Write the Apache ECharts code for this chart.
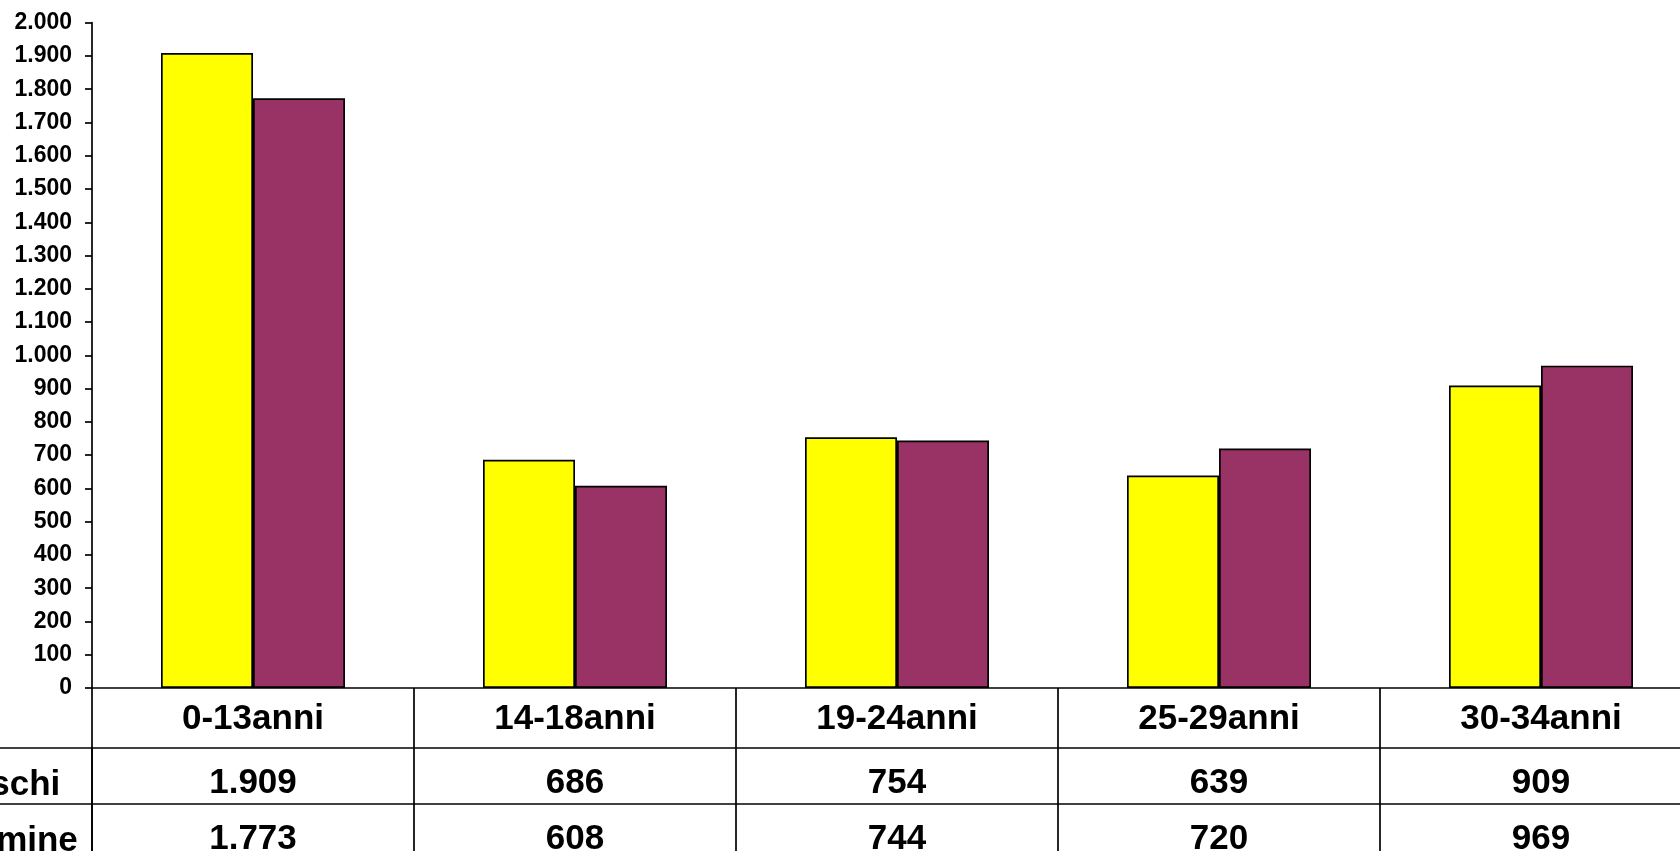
<!DOCTYPE html>
<html>
<head>
<meta charset="utf-8">
<script src="https://cdn.jsdelivr.net/npm/echarts@6/dist/echarts.min.js"></script>
<style>
html,body{margin:0;padding:0;background:#fff;}
#c{width:1680px;height:851px;}
</style>
</head>
<body>
<div id="c"></div>
<script>
const categories = ['0-13anni', '14-18anni', '19-24anni', '25-29anni', '30-34anni'];
const seriesNames = ['Maschi', 'Femmine'];
const maschi = [1909, 686, 754, 639, 909];
const femmine = [1773, 608, 744, 720, 969];
const yMin = 0, yMax = 2000, yStep = 100;

const FONT = '"Liberation Sans", Arial, sans-serif';
const fmt = v => String(v).replace(/\B(?=(\d{3})+(?!\d))/g, '.');
const LW = 1.7;

const tableData = [];
[maschi, femmine].forEach((arr, r) => {
  arr.forEach((v, i) => tableData.push([categories[i], seriesNames[r], v]));
});
const rowLabelData = seriesNames.map(n => ['', n, n]);

const chart = echarts.init(document.getElementById('c'));
chart.setOption({
  animation: false,
  backgroundColor: '#fff',
  grid: [
    { left: 92, top: 22.7, width: 1610, height: 665.3, outerBoundsMode: 'none', containLabel: false },
    { left: 92, top: 747.5, width: 1610, height: 112.2, outerBoundsMode: 'none', containLabel: false },
    { left: 0, top: 747.5, width: 92, height: 112.2, outerBoundsMode: 'none', containLabel: false }
  ],
  xAxis: [
    {
      gridIndex: 0, type: 'category', data: categories,
      axisLine: { lineStyle: { color: '#000', width: LW } },
      axisTick: { show: true, interval: 0, length: 59.5, lineStyle: { color: '#000', width: LW } },
      axisLabel: { interval: 0, margin: 14, fontSize: 35, fontWeight: 'bold', fontFamily: FONT, color: '#000' }
    },
    {
      gridIndex: 1, type: 'category', data: categories,
      axisLine: { show: false }, axisTick: { show: false }, axisLabel: { show: false },
      splitLine: { show: true, interval: 0, lineStyle: { color: '#000', width: LW } }
    },
    {
      gridIndex: 2, type: 'category', data: [''],
      axisLine: { show: false }, axisTick: { show: false }, axisLabel: { show: false },
      splitLine: { show: false }
    }
  ],
  yAxis: [
    {
      gridIndex: 0, type: 'value', min: yMin, max: yMax, interval: yStep,
      axisLine: { show: true, lineStyle: { color: '#000', width: LW } },
      axisTick: { show: true, length: 7, lineStyle: { color: '#000', width: LW } },
      splitLine: { show: false },
      axisLabel: { margin: 20, fontSize: 23, fontWeight: 'bold', fontFamily: FONT, color: '#000', formatter: fmt }
    },
    {
      gridIndex: 1, type: 'category', data: seriesNames, inverse: true,
      axisLine: { show: true, lineStyle: { color: '#000', width: LW } },
      axisTick: { show: false },
      splitLine: { show: true, interval: 0, lineStyle: { color: '#000', width: LW } },
      axisLabel: { show: false }
    },
    {
      gridIndex: 2, type: 'category', data: seriesNames, inverse: true,
      axisLine: { show: false }, axisTick: { show: false }, axisLabel: { show: false },
      splitLine: { show: true, interval: 0, lineStyle: { color: '#000', width: LW } }
    }
  ],
  series: [
    {
      name: seriesNames[0], type: 'bar', xAxisIndex: 0, yAxisIndex: 0, data: maschi,
      barWidth: 92, barGap: '0%',
      itemStyle: { color: '#FFFF00', borderColor: '#000', borderWidth: LW }
    },
    {
      name: seriesNames[1], type: 'bar', xAxisIndex: 0, yAxisIndex: 0, data: femmine,
      barWidth: 92, barGap: '0%',
      itemStyle: { color: '#993366', borderColor: '#000', borderWidth: LW }
    },
    {
      type: 'scatter', xAxisIndex: 1, yAxisIndex: 1, data: tableData,
      symbol: 'rect', symbolSize: 1, itemStyle: { color: 'rgba(255,255,255,0)', opacity: 1 },
      silent: true,
      label: {
        show: true, position: 'inside', offset: [0, 8],
        formatter: p => fmt(p.value[2]),
        fontSize: 35, fontWeight: 'bold', fontFamily: FONT, color: '#000',
        opacity: 1, textBorderWidth: 0, textBorderColor: 'transparent'
      }
    },
    {
      type: 'scatter', xAxisIndex: 2, yAxisIndex: 2, data: rowLabelData,
      symbol: 'rect', symbolSize: 1, itemStyle: { color: 'rgba(255,255,255,0)', opacity: 1 },
      silent: true,
      label: {
        show: true, position: 'inside', offset: [-45, 10],
        formatter: p => p.value[2],
        fontSize: 35, fontWeight: 'bold', fontFamily: FONT, color: '#000',
        opacity: 1, textBorderWidth: 0, textBorderColor: 'transparent'
      }
    }
  ]
});
</script>
</body>
</html>
